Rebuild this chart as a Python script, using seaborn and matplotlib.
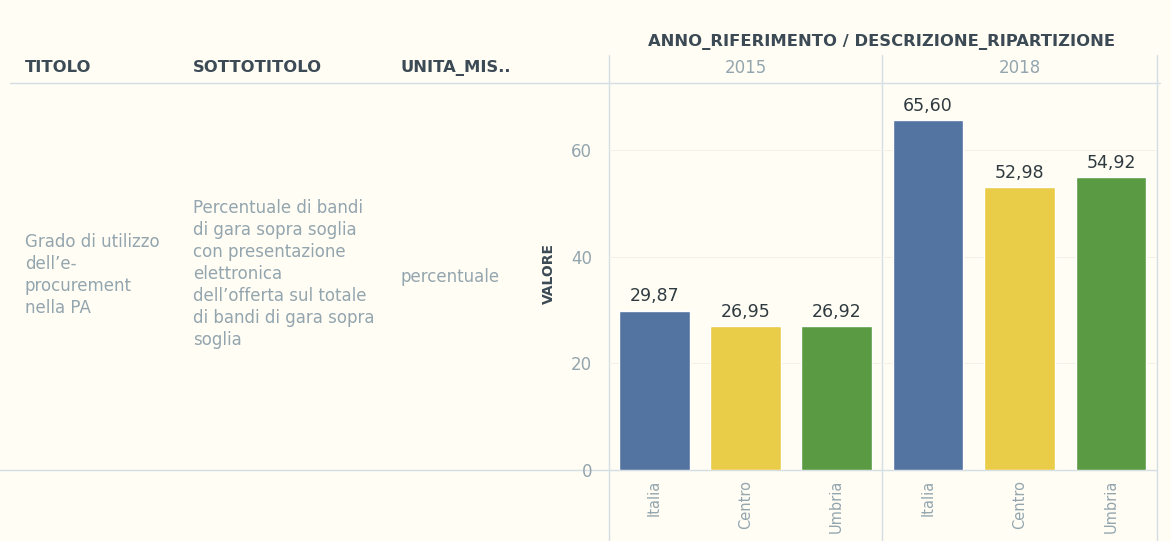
import matplotlib
matplotlib.use("Agg")
import matplotlib.pyplot as plt
import numpy as np
import pandas as pd
import seaborn as sns

# data
years = ["2015", "2018"]
regions = ["Italia", "Centro", "Umbria"]
values_2015 = [29.87, 26.95, 26.92]
values_2018 = [65.60, 52.98, 54.92]
colors = ["#5373a0", "#e9cc48", "#5a9a43"]

titolo = "Grado di utilizzo\ndell\u2019e-\nprocurement\nnella PA"
sottotitolo = ("Percentuale di bandi\ndi gara sopra soglia\ncon presentazione\nelettronica\n"
               "dell\u2019offerta sul totale\ndi bandi di gara sopra\nsoglia")
unita = "percentuale"
y_ticks = [0, 20, 40, 60]

df = pd.DataFrame({
    "anno": [years[0]] * 3 + [years[1]] * 3,
    "regione": regions * 2,
    "valore": values_2015 + values_2018,
})

sns.set_theme(style="white")
plt.rcParams["font.family"] = ["DejaVu Sans"]

bg = "#fffdf4"
line_col = "#d5dee4"
head_col = "#3b4a55"
text_col = "#93a5ae"

W, H = 1171, 541
fig = plt.figure(figsize=(W / 100, H / 100), dpi=100, facecolor=bg)

# overlay in pixel coords for the table part
ov = fig.add_axes([0, 0, 1, 1], facecolor="none")
ov.set_xlim(0, W)
ov.set_ylim(H, 0)
ov.axis("off")

def fx(px):
    return px / W

def fy(py):
    return 1 - py / H

x0, xm, x1 = 609, 882, 1157
ytop, ybot = 83, 470
ymax = 60 * (ybot - ytop) / (ybot - 150)

for i, yr in enumerate(years):
    left = x0 if i == 0 else xm
    right = xm if i == 0 else x1
    ax = fig.add_axes([fx(left), fy(ybot), fx(right - left), fy(ytop) - fy(ybot)])
    ax.set_facecolor("none")
    sub = df[df["anno"] == yr]
    sns.barplot(data=sub, x="regione", y="valore", hue="regione", order=regions,
                hue_order=regions, palette=colors, dodge=False, width=0.77,
                legend=False, ax=ax, saturation=1)
    ax.set_ylim(0, ymax)
    ax.set_xlim(-0.5, 2.5)
    for c in ax.containers:
        for bar in c:
            h = bar.get_height()
            ax.text(bar.get_x() + bar.get_width() / 2, h + 1.0,
                    f"{h:.2f}".replace(".", ","), ha="center", va="bottom",
                    fontsize=12.5, color="#2f3a40")
    ax.set_xlabel("")
    ax.set_ylabel("")
    ax.set_yticks(y_ticks)
    ax.yaxis.grid(True, color="#efeee8", lw=0.6)
    ax.set_axisbelow(True)
    ax.tick_params(axis="x", rotation=90, labelsize=10.5, labelcolor=text_col,
                   length=0, pad=7)
    for s in ax.spines.values():
        s.set_visible(False)
    if i == 0:
        ax.tick_params(axis="y", labelsize=12, labelcolor=text_col, length=0, pad=12)
    else:
        ax.tick_params(axis="y", labelleft=False, length=0)

# table lines
ov.plot([10, 1160], [ytop, ytop], color=line_col, lw=1)
ov.plot([0, x1], [ybot, ybot], color=line_col, lw=1)
for xv in (x0, xm, x1):
    ov.plot([xv, xv], [55, H], color=line_col, lw=1)

# headers
hdr = dict(fontsize=11.8, fontweight="bold", color=head_col, va="center")
ov.text(25, 68, "TITOLO", **hdr)
ov.text(193, 68, "SOTTOTITOLO", **hdr)
ov.text(400, 68, "UNITA_MIS..", **hdr)
ov.text(882, 42, "ANNO_RIFERIMENTO / DESCRIZIONE_RIPARTIZIONE", ha="center", **hdr)
ov.text((x0 + xm) / 2, 68, years[0], fontsize=12, color=text_col, ha="center", va="center")
ov.text((xm + x1) / 2, 68, years[1], fontsize=12, color=text_col, ha="center", va="center")

# cells
ov.text(25, 275, titolo, fontsize=12, color=text_col, va="center", linespacing=1.28)
ov.text(193, 274, sottotitolo, fontsize=12, color=text_col, va="center", linespacing=1.28)
ov.text(400, 277, unita, fontsize=12, color=text_col, va="center")
ov.text(549, 273, "VALORE", fontsize=10, fontweight="bold", color=head_col,
        rotation=90, ha="center", va="center")

fig.savefig("out.png", dpi=100, facecolor=bg)
